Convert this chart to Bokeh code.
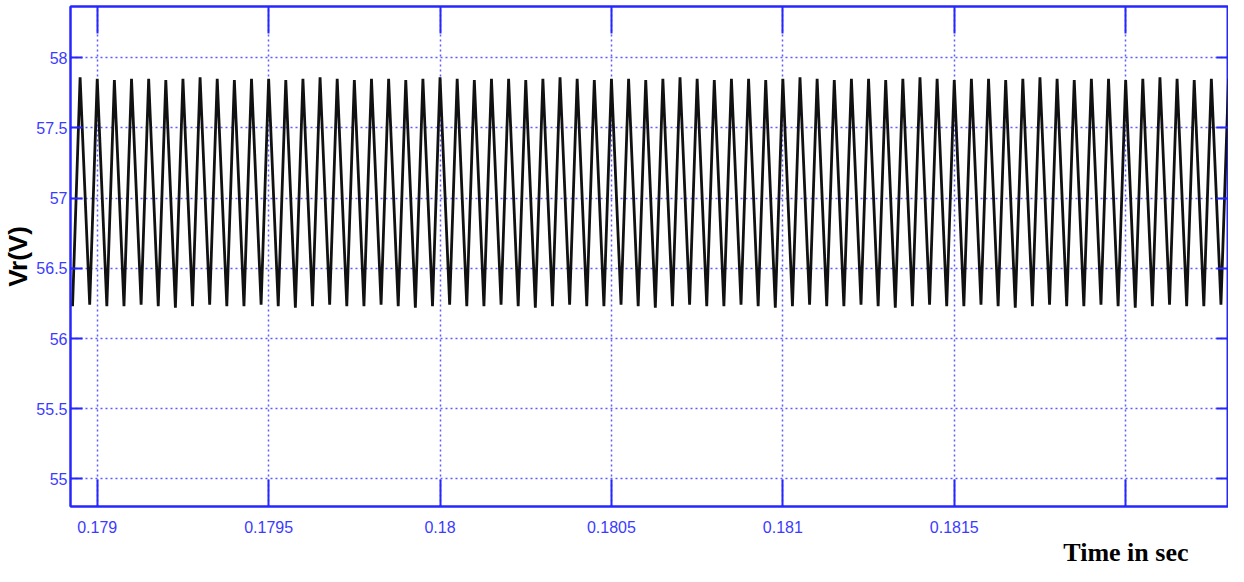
from bokeh.plotting import figure
from bokeh.models import LinearAxis, FixedTicker, Title, Range1d, ColumnDataSource
from bokeh.embed import file_html
from bokeh.resources import INLINE

# ---- data ----
peak_times = [
    0.17895, 0.17900, 0.17905, 0.17910, 0.17915, 0.17920, 0.17925, 0.17930, 0.17935, 0.17940,
    0.17945, 0.17950, 0.17955, 0.17960, 0.17965, 0.17970, 0.17975, 0.17980, 0.17985, 0.17990,
    0.17995, 0.18000, 0.18005, 0.18010, 0.18015, 0.18020, 0.18025, 0.18030, 0.18035, 0.18040,
    0.18045, 0.18050, 0.18055, 0.18060, 0.18065, 0.18070, 0.18075, 0.18080, 0.18085, 0.18090,
    0.18095, 0.18100, 0.18105, 0.18110, 0.18115, 0.18120, 0.18125, 0.18130, 0.18135, 0.18140,
    0.18145, 0.18150, 0.18155, 0.18160, 0.18165, 0.18170, 0.18175, 0.18180, 0.18185, 0.18190,
    0.18195, 0.18200, 0.18205, 0.18210, 0.18215, 0.18220, 0.18225, 0.18230,
]
peak_volts = [
    57.86, 57.85, 57.84, 57.85, 57.85, 57.84, 57.85, 57.86, 57.85, 57.84,
    57.85, 57.85, 57.84, 57.85, 57.86, 57.85, 57.84, 57.85, 57.85, 57.84,
    57.85, 57.86, 57.85, 57.84, 57.85, 57.85, 57.84, 57.85, 57.86, 57.85,
    57.84, 57.85, 57.85, 57.84, 57.85, 57.86, 57.85, 57.84, 57.85, 57.85,
    57.84, 57.85, 57.86, 57.85, 57.84, 57.85, 57.85, 57.84, 57.85, 57.86,
    57.85, 57.84, 57.85, 57.85, 57.84, 57.85, 57.86, 57.85, 57.84, 57.85,
    57.85, 57.84, 57.85, 57.86, 57.85, 57.84, 57.85, 57.85,
]
trough_times = [
    0.178928, 0.178978, 0.179028, 0.179078, 0.179128, 0.179178, 0.179228, 0.179278, 0.179328, 0.179378,
    0.179428, 0.179478, 0.179528, 0.179578, 0.179628, 0.179678, 0.179728, 0.179778, 0.179828, 0.179878,
    0.179928, 0.179978, 0.180028, 0.180078, 0.180128, 0.180178, 0.180228, 0.180278, 0.180328, 0.180378,
    0.180428, 0.180478, 0.180528, 0.180578, 0.180628, 0.180678, 0.180728, 0.180778, 0.180828, 0.180878,
    0.180928, 0.180978, 0.181028, 0.181078, 0.181128, 0.181178, 0.181228, 0.181278, 0.181328, 0.181378,
    0.181428, 0.181478, 0.181528, 0.181578, 0.181628, 0.181678, 0.181728, 0.181778, 0.181828, 0.181878,
    0.181928, 0.181978, 0.182028, 0.182078, 0.182128, 0.182178, 0.182228, 0.182278,
]
trough_volts = [
    56.23, 56.24, 56.23, 56.23, 56.24, 56.23, 56.22, 56.23, 56.24, 56.23,
    56.23, 56.24, 56.23, 56.22, 56.23, 56.24, 56.23, 56.23, 56.24, 56.23,
    56.22, 56.23, 56.24, 56.23, 56.23, 56.24, 56.23, 56.22, 56.23, 56.24,
    56.23, 56.23, 56.24, 56.23, 56.22, 56.23, 56.24, 56.23, 56.23, 56.24,
    56.23, 56.22, 56.23, 56.24, 56.23, 56.23, 56.24, 56.23, 56.22, 56.23,
    56.24, 56.23, 56.23, 56.24, 56.23, 56.22, 56.23, 56.24, 56.23, 56.23,
    56.24, 56.23, 56.22, 56.23, 56.24, 56.23, 56.23, 56.24,
]
x_ticks = [0.179, 0.1795, 0.18, 0.1805, 0.181, 0.1815, 0.182]
x_labels = ["0.179", "0.1795", "0.18", "0.1805", "0.181", "0.1815", ""]
y_ticks = [55.0, 55.5, 56.0, 56.5, 57.0, 57.5, 58.0]
y_labels = ["55", "55.5", "56", "56.5", "57", "57.5", "58"]

# interleave troughs and peaks into one polyline
t, v = [], []
for tt, tv, pt, pv in zip(trough_times, trough_volts, peak_times, peak_volts):
    t += [tt, pt]
    v += [tv, pv]
src = ColumnDataSource(dict(t=t, v=v))

BLUE = "#2626ff"
TICKFONT = "Liberation Sans"

p = figure(width=1228, height=566, output_backend="svg", toolbar_location=None,
           x_range=Range1d(0.178922, 0.1823), y_range=Range1d(54.804, 58.364),
           min_border_left=60, min_border_right=0, min_border_top=6, min_border_bottom=56)
p.background_fill_color = "white"
p.border_fill_color = "white"
p.outline_line_color = BLUE
p.outline_line_width = 2

p.line("t", "v", source=src, line_color="#111111", line_width=2.8)

# axes
xt = FixedTicker(ticks=x_ticks)
yt = FixedTicker(ticks=y_ticks)
p.xaxis.ticker = xt
p.yaxis.ticker = yt
p.xaxis.major_label_overrides = {k: s for k, s in zip(x_ticks, x_labels)}
p.yaxis.major_label_overrides = {k: s for k, s in zip(y_ticks, y_labels)}

for ax in (p.xaxis[0], p.yaxis[0]):
    ax.axis_line_color = BLUE
    ax.axis_line_width = 2
    ax.major_tick_line_color = BLUE
    ax.major_tick_line_width = 2
    ax.major_tick_out = 0
    ax.minor_tick_line_color = None
    ax.major_label_text_color = "#3b3bff"
    ax.major_label_text_font = TICKFONT
    ax.major_label_text_font_size = "16px"
p.xaxis.major_tick_in = 27
p.yaxis.major_tick_in = 12
p.xaxis.major_label_standoff = 14
p.yaxis.major_label_standoff = 3

p.yaxis.axis_label = "Vr(V)"
p.yaxis.axis_label_text_font = "Liberation Sans"
p.yaxis.axis_label_text_font_style = "bold"
p.yaxis.axis_label_text_font_size = "26px"
p.yaxis.axis_label_text_color = "black"
p.yaxis.axis_label_standoff = 0

# box-style ticks on top and right (no labels)
top = LinearAxis(ticker=FixedTicker(ticks=x_ticks), major_tick_in=27, major_tick_out=0,
                 major_tick_line_color=BLUE, major_tick_line_width=2,
                 axis_line_color=BLUE, axis_line_width=2, minor_tick_line_color=None,
                 major_label_overrides={k: "" for k in x_ticks},
                 major_label_text_font_size="1px", major_label_standoff=0)
right = LinearAxis(ticker=FixedTicker(ticks=y_ticks), major_tick_in=12, major_tick_out=0,
                   major_tick_line_color=BLUE, major_tick_line_width=2,
                   axis_line_color=BLUE, axis_line_width=2, minor_tick_line_color=None,
                   major_label_overrides={k: "" for k in y_ticks},
                   major_label_text_font_size="1px", major_label_standoff=0)
p.add_layout(top, "above")
p.add_layout(right, "right")

# grid
for g in (p.xgrid[0], p.ygrid[0]):
    g.grid_line_color = BLUE
    g.grid_line_alpha = 0.75
    g.grid_line_width = 1.5
    g.grid_line_dash = "2 3"
p.xgrid.ticker = xt
p.ygrid.ticker = yt

p.add_layout(Title(text="Time in sec", align="right", offset=40, standoff=0,
                   text_font="Liberation Serif", text_font_style="bold",
                   text_font_size="26px", text_color="black"), "below")

open("out.html", "w").write(file_html(p, INLINE))
